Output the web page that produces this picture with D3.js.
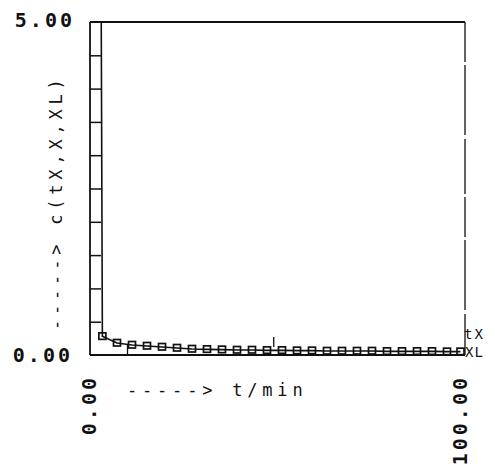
<!DOCTYPE html>
<html>
<head>
<meta charset="utf-8">
<script src="https://cdn.jsdelivr.net/npm/d3@7"></script>
<style>
  html, body { margin: 0; padding: 0; background: #fff; }
  svg { display: block; }
  text { font-family: "DejaVu Sans Mono", "Liberation Mono", monospace; fill: #111; }
</style>
</head>
<body>
<script>
// ---- data ----
const tX_t = [3.0, 3.3, 7.2, 11.2, 15.2, 19.2, 23.2, 27.2, 31.2, 35.2, 39.2, 43.2, 47.2, 51.2, 55.2, 59.2, 63.2, 67.2, 71.2, 75.2, 79.2, 83.2, 87.2, 91.2, 95.2, 98.8];
const tX_c = [5.0, 0.28, 0.18, 0.15, 0.135, 0.12, 0.105, 0.09, 0.085, 0.08, 0.075, 0.075, 0.07, 0.07, 0.065, 0.065, 0.06, 0.06, 0.06, 0.06, 0.055, 0.055, 0.055, 0.055, 0.05, 0.05];
const XL_t = [0, 100];
const XL_c = [0.0, 0.0];
const yTickValues = [0.5, 1.0, 1.5, 2.0, 2.5, 3.0, 3.5, 4.0, 4.5];
const yTickLabels = ["0.00", "5.00"];
const xTickLabels = ["0.00", "100.00"];
const extraMarks = [{t: 10, c0: 0.0, c1: 0.15}, {t: 49, c0: 0.12, c1: 0.27}];
const seriesLabels = ["tX", "XL"];
const xTitle = "-----> t/min";
const yTitle = "-----> c(tX,X,XL)";

// ---- layout ----
const W = 495, H = 464;
const L = 90, R = 465, T = 22, B = 355;

const x = d3.scaleLinear().domain([0, 100]).range([L, R]);
const y = d3.scaleLinear().domain([0, 5]).range([B, T]);

const svg = d3.select("body").append("svg").attr("width", W).attr("height", H);

svg.append("defs").append("clipPath").attr("id", "plotclip")
  .append("rect").attr("x", L).attr("y", T).attr("width", R - L).attr("height", B - T);

// frame: left & bottom axis, top and right border
svg.append("line").attr("x1", x(0)).attr("x2", x(0)).attr("y1", y(0)).attr("y2", y(5))
  .attr("stroke", "#111").attr("stroke-width", 1.8);
svg.append("line").attr("x1", x(0)).attr("x2", x(100)).attr("y1", y(0)).attr("y2", y(0))
  .attr("stroke", "#111").attr("stroke-width", 1.8);
svg.append("line").attr("x1", x(0)).attr("x2", x(100)).attr("y1", y(5)).attr("y2", y(5))
  .attr("stroke", "#111").attr("stroke-width", 2);
svg.append("line").attr("x1", x(100)).attr("x2", x(100)).attr("y1", y(5)).attr("y2", y(0))
  .attr("stroke", "#111").attr("stroke-width", 1.3)
  .attr("stroke-dasharray", "40,3,70,4,55,3");

// y ticks (inward)
const yAxis = d3.axisRight(y).tickValues(yTickValues).tickSize(11).tickFormat("");
const yg = svg.append("g").attr("transform", `translate(${x(0)},0)`).call(yAxis);
yg.select(".domain").remove();
yg.selectAll(".tick line").attr("stroke", "#111").attr("stroke-width", 1.5);

// extra short vertical marks
svg.selectAll(".mark").data(extraMarks).enter().append("line")
  .attr("x1", d => x(d.t)).attr("x2", d => x(d.t))
  .attr("y1", d => y(d.c0)).attr("y2", d => y(d.c1))
  .attr("stroke", "#111").attr("stroke-width", 1.3);

// series
const tXData = tX_t.map((t, i) => ({t, c: tX_c[i]}));
const XLData = XL_t.map((t, i) => ({t, c: XL_c[i]}));
const line = d3.line().x(d => x(d.t)).y(d => y(d.c));

const plot = svg.append("g").attr("clip-path", "url(#plotclip)");
plot.append("path").datum(XLData).attr("d", line)
  .attr("fill", "none").attr("stroke", "#111").attr("stroke-width", 1.5);
plot.selectAll(".sq").data(tXData.slice(1)).enter().append("rect")
  .attr("x", d => x(d.t) - 3.5).attr("y", d => y(d.c) - 3.5)
  .attr("width", 7).attr("height", 6.5)
  .attr("fill", "#fff").attr("stroke", "#111").attr("stroke-width", 1.7);
plot.append("path").datum(tXData).attr("d", line)
  .attr("fill", "none").attr("stroke", "#111").attr("stroke-width", 1.6);

// y tick labels
svg.append("text").attr("x", 75).attr("y", y(5) + 5).attr("text-anchor", "end")
  .attr("font-size", 20).attr("font-weight", "bold").attr("letter-spacing", 3)
  .text(yTickLabels[1]);
svg.append("text").attr("x", 73).attr("y", y(0) + 7).attr("text-anchor", "end")
  .attr("font-size", 20).attr("font-weight", "bold").attr("letter-spacing", 3)
  .text(yTickLabels[0]);

// x tick labels (rotated)
[[0, 96], [100, 467]].forEach(([v, bx], i) => {
  svg.append("text")
    .attr("transform", `translate(${bx},375) rotate(-90)`)
    .attr("text-anchor", "end")
    .attr("font-size", 20).attr("font-weight", "bold").attr("letter-spacing", 3)
    .text(xTickLabels[i]);
});

// series labels
svg.append("text").attr("x", 464).attr("y", 339).attr("font-size", 14).attr("letter-spacing", 2).text(seriesLabels[0]);
svg.append("text").attr("x", 465).attr("y", 357).attr("font-size", 14).attr("letter-spacing", 1).text(seriesLabels[1]);

// axis titles
svg.append("text").attr("x", 127).attr("y", 396)
  .attr("font-size", 17).attr("letter-spacing", 4.8).text(xTitle);
svg.append("text").attr("transform", "translate(62,330) rotate(-90)")
  .attr("font-size", 17).attr("letter-spacing", 4.8).text(yTitle);
</script>
</body>
</html>
